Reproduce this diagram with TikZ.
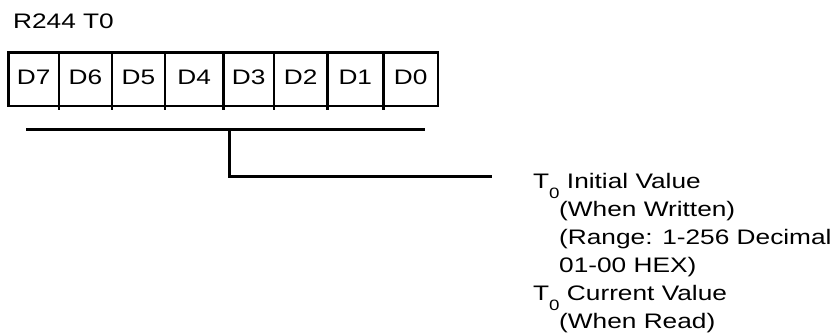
\documentclass[tikz,border=0pt]{standalone}
\usepackage{graphicx}
\usepackage{fontspec}
\setmainfont{Liberation Sans}
\newcommand{\hstretch}[1]{\scalebox{1.25}[1]{#1}}
\newcommand{\lowsub}[1]{\raisebox{-10pt}{\fontsize{15}{15}\selectfont #1}}
\begin{document}
\begin{tikzpicture}[x=1pt,y=-1pt,
  lbl/.style={font=\fontsize{21}{28}\selectfont, inner sep=0pt},
  txt/.style={lbl, anchor=base west},
  cellt/.style={lbl, anchor=base},
  boxln/.style={line width=2.4pt},
  bar/.style={line width=3.2pt}]
\useasboundingbox (0,0) rectangle (838,333);
% title
\node[txt] (title) at (13,28.3) {\hstretch{R244 T0}};
% register box
\draw[boxln] (8.3,52.5) rectangle (438,105.7);
\foreach \x in {59,111.7,165,223.3,274,327.3,383.3}
  \draw[boxln] (\x,52.5) -- (\x,109.5);
\node[cellt] (d7) at (33.7,84) {\hstretch{D7}};
\node[cellt] (d6) at (85.4,84) {\hstretch{D6}};
\node[cellt] (d5) at (138.4,84) {\hstretch{D5}};
\node[cellt] (d4) at (194.2,84) {\hstretch{D4}};
\node[cellt] (d3) at (248.7,84) {\hstretch{D3}};
\node[cellt] (d2) at (300.7,84) {\hstretch{D2}};
\node[cellt] (d1) at (355.3,84) {\hstretch{D1}};
\node[cellt] (d0) at (410.7,84) {\hstretch{D0}};
% description
\node[txt] (l1) at (533,188) {\hstretch{T\lowsub{0} Initial Value}};
\node[txt] (l2) at (559,216) {\hstretch{(When Written)}};
\node[txt] (l3) at (559,244) {\hstretch{(Range: 1-256 Decimal}};
\node[txt] (l4) at (559,272) {\hstretch{01-00 HEX)}};
\node[txt] (l5) at (533,300) {\hstretch{T\lowsub{0} Current Value}};
\node[txt] (l6) at (559,328) {\hstretch{(When Read)}};
% connector
\coordinate (barL) at (26,129.3);
\coordinate (barR) at (425,129.3);
\coordinate (tap) at (229.3,129.3);
\coordinate (lineend) at (492,176.7);
\draw[bar] (barL) -- (barR);
\draw[bar] (tap) |- (lineend);
\end{tikzpicture}
\end{document}
